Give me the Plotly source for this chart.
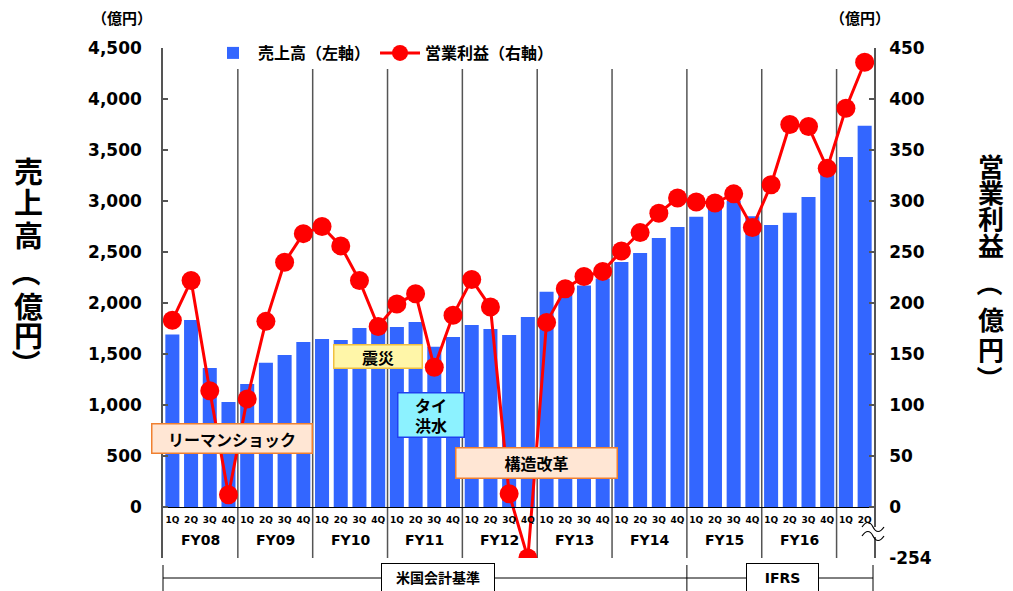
import plotly.graph_objects as go

# ---------------- data ----------------
fiscal_years = ["FY08", "FY09", "FY10", "FY11", "FY12", "FY13", "FY14", "FY15", "FY16", "FY17"]
quarters = ["1Q", "2Q", "3Q", "4Q"]
fy_labels = ["FY08", "FY09", "FY10", "FY11", "FY12", "FY13", "FY14", "FY15", "FY16", ""]
n_quarters_last = 2

sales = [1690, 1833, 1363, 1029,
         1206, 1415, 1490, 1618,
         1647, 1637, 1755, 1745,
         1765, 1814, 1572, 1667,
         1784, 1745, 1686, 1863,
         2110, 2145, 2172, 2240,
         2403, 2490, 2637, 2745,
         2845, 2960, 3000, 2850,
         2765, 2884, 3040, 3300,
         3431, 3738]

op_profit = [183, 222, 114, 12,
             106, 182, 240, 268,
             275, 256, 222, 177,
             199, 209, 137, 188,
             223, 196, 13, -254,
             181, 214, 226, 231,
             251, 269, 288, 303,
             299, 298, 307, 274,
             316, 375, 373, 332,
             391, 436]

left_ticks = [0, 500, 1000, 1500, 2000, 2500, 3000, 3500, 4000, 4500]
right_ticks = [0, 50, 100, 150, 200, 250, 300, 350, 400, 450]
right_break_value = -254          # lowest value, shown on a compressed (broken) segment
right_break_pos = -50             # axis position used for the broken segment

events = ["リーマンショック", "震災", "タイ<br>洪水", "構造改革"]
standards = ["米国会計基準", "IFRS"]
left_title_text = "売上高（億円）"
right_title_text = "営業利益（億円）"

# ---------------- derived ----------------
cats, qlabels, fy_of = [], [], []
for i, fy in enumerate(fiscal_years):
    nq = 4 if i < len(fiscal_years) - 1 else n_quarters_last
    for q in quarters[:nq]:
        cats.append(f"{fy} {q}")
        qlabels.append(q)
        fy_of.append(i)


def to_axis(v):
    # broken axis: negative values are compressed onto [right_break_pos, 0]
    return v if v >= 0 else v * (right_break_pos / right_break_value)


op_plot = [to_axis(v) for v in op_profit]

# page offset (body margin) and pixel helpers for decorations (reference pixels)
OFF = 8
FIG_W, FIG_H = 1013 - OFF, 591 - OFF
L, R, T, B = 163, 874, 48, 558
W, H = R - L, B - T


def xp(px):
    return (px - L) / W


def yp(py):
    return (B - py) / H


FONT = "DejaVu Sans, Noto Sans CJK JP, sans-serif"
JFONT = "Noto Sans CJK JP, sans-serif"

fig = go.Figure()
fig.add_trace(go.Bar(
    x=cats, y=sales, name="売上高（左軸）",
    marker=dict(color="#3366FF", line=dict(width=0)),
    yaxis="y",
))
fig.add_trace(go.Scatter(
    x=cats, y=op_plot, name="営業利益（右軸）",
    mode="lines+markers",
    line=dict(color="#FF0000", width=3),
    marker=dict(color="#FF0000", size=19),
    customdata=op_profit, hovertemplate="%{customdata}<extra></extra>",
    yaxis="y2",
))

shapes = []
# fiscal year separators
idx = 0
for i, fy in enumerate(fiscal_years[:-1]):
    idx += 4
    shapes.append(dict(type="line", xref="x", yref="paper", x0=idx - 0.5, x1=idx - 0.5,
                       y0=0, y1=yp(69), line=dict(color="#555555", width=1.5), layer="below"))

# accounting standards row
ifrs_start = fiscal_years.index("FY15") * 4 - 0.5
shapes.append(dict(type="line", xref="paper", yref="paper", x0=0, x1=xp(873), y0=yp(578), y1=yp(578),
                   line=dict(color="black", width=1)))
shapes.append(dict(type="line", xref="paper", yref="paper", x0=0, x1=0, y0=yp(565), y1=yp(595),
                   line=dict(color="black", width=1)))
shapes.append(dict(type="line", xref="x", yref="paper", x0=ifrs_start, x1=ifrs_start, y0=yp(565), y1=yp(595),
                   line=dict(color="black", width=1)))
shapes.append(dict(type="line", xref="paper", yref="paper", x0=xp(873), x1=xp(873), y0=yp(565), y1=yp(595),
                   line=dict(color="black", width=1)))

# axis break symbol on right axis
shapes.append(dict(type="rect", xref="paper", yref="paper", x0=xp(869), x1=xp(879), y0=yp(537), y1=yp(527),
                   fillcolor="white", line=dict(width=0), layer="above"))


def wave(cy):
    pts = [(862, cy), (866, cy - 6), (870, cy - 6), (873, cy), (876, cy + 6), (880, cy + 6), (884, cy)]
    s = [f"{xp(a):.5f},{yp(b):.5f}" for a, b in pts]
    return f"M{s[0]} C{s[1]} {s[2]} {s[3]} C{s[4]} {s[5]} {s[6]}"


for cy in (527, 536):
    shapes.append(dict(type="path", xref="paper", yref="paper", path=wave(cy),
                       line=dict(color="black", width=1.2), layer="above"))

annotations = []


def ann(**kw):
    d = dict(showarrow=False, xanchor="center", yanchor="middle")
    d.update(kw)
    annotations.append(d)


# FY labels
start = 0
for i, fy in enumerate(fiscal_years):
    nq = fy_of.count(i)
    if fy_labels[i]:
        ann(x=start + (nq - 1) / 2, y=yp(540), xref="x", yref="paper", text=fy_labels[i],
            font=dict(family=FONT, size=14, color="black", weight="bold"))
    start += nq

# accounting standard boxes
for txt, cx, cy, w in [(standards[0], 438, 578, 108), (standards[1], 782, 578, 67)]:
    ann(x=xp(cx), y=yp(cy), xref="paper", yref="paper", text=txt,
        font=dict(family=FONT, size=14, color="black", weight="bold"),
        bgcolor="white", bordercolor="black", borderwidth=1, borderpad=2, width=w, height=24)

# event labels
ev_style = [
    (events[0], 232, 438, 157, 26, "#FFE6D4", "#F08030"),
    (events[1], 378, 356, 85, 20, "#FFF6A8", "#F0C040"),
    (events[2], 431, 415, 63, 41, "#8CF2FF", "#2040F0"),
    (events[3], 536, 463, 158, 27, "#FFE6D4", "#F08030"),
]
for txt, cx, cy, w, h, bg, bc in ev_style:
    ann(x=xp(cx), y=yp(cy), xref="paper", yref="paper", text=txt,
        font=dict(family=JFONT, size=16, color="black", weight="bold"),
        bgcolor=bg, bordercolor=bc, borderwidth=1.5, borderpad=1, width=w, height=h)

# units
for cx in (122, 860):
    ann(x=xp(cx), y=yp(18), xref="paper", yref="paper", text="（億円）",
        font=dict(family=JFONT, size=15, color="black", weight="bold"))


# vertical axis titles (one character per line, brackets rotated as in vertical writing)
def vertical_title(text, cx, centers, size):
    for ch, cy in zip(text, centers):
        angle = 0
        if ch == "（":
            angle, cy = 90, cy - size * 0.25
        elif ch == "）":
            angle, cy = 90, cy + size * 0.25
        ann(x=xp(cx), y=yp(cy), xref="paper", yref="paper", text=ch, textangle=angle,
            font=dict(family=JFONT, size=size, color="black", weight="bold"))


vertical_title(left_title_text, 28, [170, 201, 234, 279, 305, 334, 356], 29)
vertical_title(right_title_text, 991, [166, 191, 217, 245, 290, 318, 348, 372], 26)

fig.update_layout(
    width=FIG_W, height=FIG_H,
    margin=dict(l=L - OFF, r=FIG_W - (R - OFF), t=T - OFF, b=FIG_H - (B - OFF)),
    plot_bgcolor="white", paper_bgcolor="white",
    bargap=0.25,
    showlegend=True,
    legend=dict(orientation="h", x=xp(208), y=yp(53), xanchor="left", yanchor="middle",
                font=dict(family=JFONT, size=16, color="black", weight="bold"),
                bgcolor="rgba(0,0,0,0)", itemwidth=40, tracegroupgap=0),
    xaxis=dict(type="category", categoryorder="array", categoryarray=cats,
               range=[-0.5, len(cats) - 0.5],
               tickmode="array", tickvals=cats, ticktext=qlabels,
               tickfont=dict(family=FONT, size=9, color="black", weight="bold"),
               ticks="", showgrid=False, showline=True, linecolor="black", linewidth=1,
               anchor="free", position=yp(507), tickangle=0, ticklabelstandoff=4),
    yaxis=dict(range=[-500, 4500], tickvals=[-500] + left_ticks,
               ticktext=[""] + [f"{v:,}" for v in left_ticks],
               tickfont=dict(family=FONT, size=17, color="black", weight="bold"),
               ticks="inside", ticklen=5, tickcolor="#555555", tickwidth=1.5,
               showline=True, linecolor="#555555", linewidth=1.5,
               showgrid=False, zeroline=False, ticklabelstandoff=16),
    yaxis2=dict(range=[right_break_pos, 450], overlaying="y", side="right",
                tickvals=[right_break_pos] + right_ticks,
                ticktext=[str(right_break_value)] + [str(v) for v in right_ticks],
                tickfont=dict(family=FONT, size=17, color="black", weight="bold"),
                ticks="inside", ticklen=5, tickcolor="#555555", tickwidth=1.5,
                showline=True, linecolor="#555555", linewidth=1.5,
                showgrid=False, zeroline=False, ticklabelstandoff=10),
    shapes=shapes,
    annotations=annotations,
)

fig.write_html("out.html")
